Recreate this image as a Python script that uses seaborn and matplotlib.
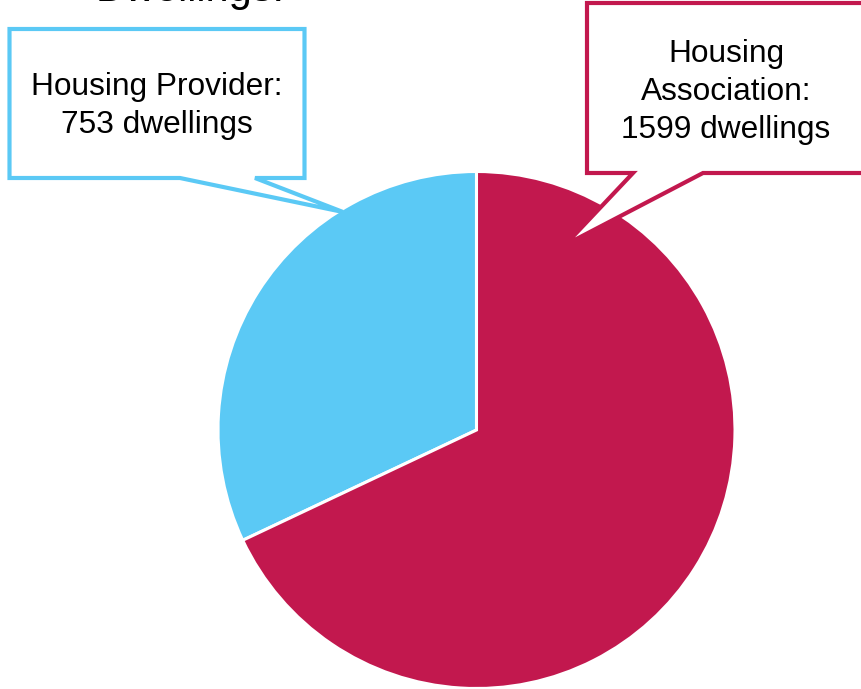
import matplotlib
matplotlib.use("Agg")
import matplotlib.pyplot as plt
from matplotlib.patches import Polygon
import seaborn as sns

# Data
categories = ["Housing Provider", "Housing Association"]
dwellings = [753, 1599]
colors = ["#5BC9F5", "#C2184E"]
title = "Dwellings:"

sns.set_theme(style="white")
plt.rcParams["font.family"] = ["Liberation Sans", "DejaVu Sans"]

W, H = 862, 689
fig = plt.figure(figsize=(W / 100, H / 100), dpi=100)
ax = fig.add_axes([0, 0, 1, 1])
ax.set_xlim(0, W)
ax.set_ylim(0, H)
ax.axis("off")

def py(y):
    return H - y

ax.pie(dwellings, colors=colors, startangle=90, counterclock=True,
       center=(476.5, py(430)), radius=258.5,
       wedgeprops=dict(edgecolor="white", linewidth=2.2))
ax.set_xlim(0, W)
ax.set_ylim(0, H)
ax.set_aspect("auto")

# Callout for Housing Provider
prov = [(9.5, 29), (304.5, 29), (304.5, 178), (255, 178), (343, 212),
        (180, 178), (9.5, 178)]
ax.add_patch(Polygon([(x, py(y)) for x, y in prov], closed=True,
                     facecolor="white", edgecolor=colors[0], linewidth=3,
                     joinstyle="miter", zorder=5))
ax.text(157, py(106), f"{categories[0]}:\n{dwellings[0]} dwellings",
        ha="center", va="center", fontsize=22.8, linespacing=1.33,
        color="black", zorder=6)

# Callout for Housing Association
assoc = [(587, 3), (900, 3), (900, 173), (703, 173), (565, 245),
         (633, 173), (587, 173)]
ax.add_patch(Polygon([(x, py(y)) for x, y in assoc], closed=True,
                     facecolor="white", edgecolor=colors[1], linewidth=3,
                     joinstyle="miter", zorder=5, clip_on=False))
ax.text(726, py(92), "Housing\nAssociation:\n" + f"{dwellings[1]} dwellings",
        ha="center", va="center", fontsize=22.8, linespacing=1.36,
        color="black", zorder=6)

# Title (cut off at the top, as in the reference)
ax.text(190, py(1), title, ha="center", va="baseline", fontsize=30,
        color="black", clip_on=False)

fig.savefig("out.png", dpi=100)
